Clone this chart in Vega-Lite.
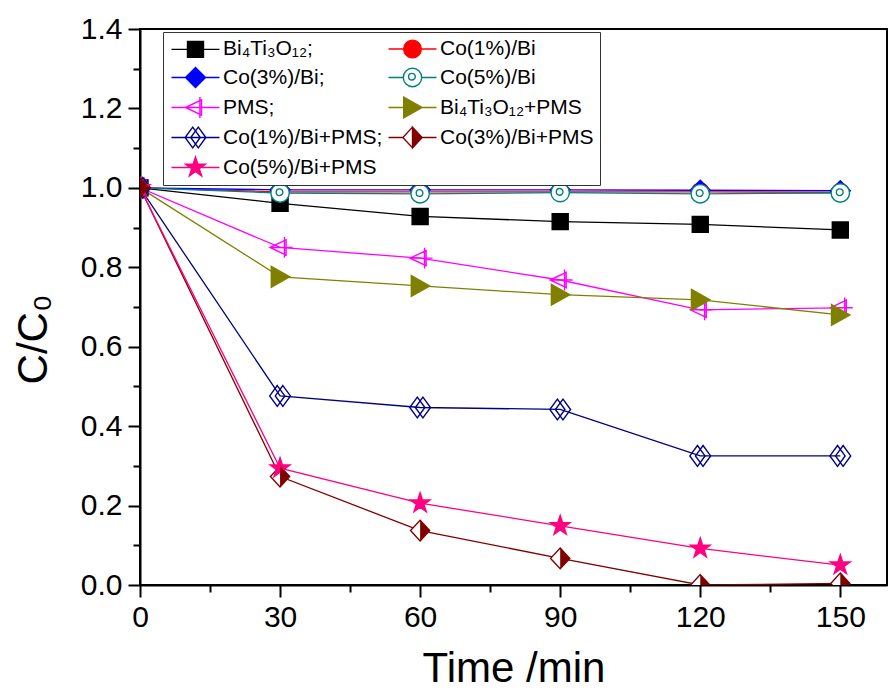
{
  "$schema": "https://vega.github.io/schema/vega-lite/v6.json",
  "width": 747,
  "height": 556,
  "autosize": "none",
  "padding": {"left": 140, "top": 29, "right": 2, "bottom": 108},
  "background": "white",
  "config": {
    "font": "Liberation Sans",
    "view": {"stroke": "black", "strokeWidth": 2}
  },
  "data": {
    "values": [
      {"series": "Bi₄Ti₃O₁₂", "t": 0, "c": 1.0},
      {"series": "Bi₄Ti₃O₁₂", "t": 30, "c": 0.961},
      {"series": "Bi₄Ti₃O₁₂", "t": 60, "c": 0.928},
      {"series": "Bi₄Ti₃O₁₂", "t": 90, "c": 0.915},
      {"series": "Bi₄Ti₃O₁₂", "t": 120, "c": 0.908},
      {"series": "Bi₄Ti₃O₁₂", "t": 150, "c": 0.894},
      {"series": "Co(1%)/Bi", "t": 0, "c": 1.0},
      {"series": "Co(1%)/Bi", "t": 30, "c": 0.990},
      {"series": "Co(1%)/Bi", "t": 60, "c": 0.990},
      {"series": "Co(1%)/Bi", "t": 90, "c": 0.990},
      {"series": "Co(1%)/Bi", "t": 120, "c": 0.990},
      {"series": "Co(1%)/Bi", "t": 150, "c": 0.989},
      {"series": "Co(3%)/Bi", "t": 0, "c": 1.0},
      {"series": "Co(3%)/Bi", "t": 30, "c": 0.995},
      {"series": "Co(3%)/Bi", "t": 60, "c": 0.995},
      {"series": "Co(3%)/Bi", "t": 90, "c": 0.995},
      {"series": "Co(3%)/Bi", "t": 120, "c": 0.994},
      {"series": "Co(3%)/Bi", "t": 150, "c": 0.993},
      {"series": "Co(5%)/Bi", "t": 0, "c": 1.0},
      {"series": "Co(5%)/Bi", "t": 30, "c": 0.987},
      {"series": "Co(5%)/Bi", "t": 60, "c": 0.985},
      {"series": "Co(5%)/Bi", "t": 90, "c": 0.988},
      {"series": "Co(5%)/Bi", "t": 120, "c": 0.985},
      {"series": "Co(5%)/Bi", "t": 150, "c": 0.987},
      {"series": "PMS", "t": 0, "c": 1.0},
      {"series": "PMS", "t": 30, "c": 0.850},
      {"series": "PMS", "t": 60, "c": 0.823},
      {"series": "PMS", "t": 90, "c": 0.768},
      {"series": "PMS", "t": 120, "c": 0.693},
      {"series": "PMS", "t": 150, "c": 0.698},
      {"series": "Bi₄Ti₃O₁₂+PMS", "t": 0, "c": 1.0},
      {"series": "Bi₄Ti₃O₁₂+PMS", "t": 30, "c": 0.776},
      {"series": "Bi₄Ti₃O₁₂+PMS", "t": 60, "c": 0.753},
      {"series": "Bi₄Ti₃O₁₂+PMS", "t": 90, "c": 0.731},
      {"series": "Bi₄Ti₃O₁₂+PMS", "t": 120, "c": 0.718},
      {"series": "Bi₄Ti₃O₁₂+PMS", "t": 150, "c": 0.680},
      {"series": "Co(1%)/Bi+PMS", "t": 0, "c": 1.0},
      {"series": "Co(1%)/Bi+PMS", "t": 30, "c": 0.476},
      {"series": "Co(1%)/Bi+PMS", "t": 60, "c": 0.447},
      {"series": "Co(1%)/Bi+PMS", "t": 90, "c": 0.442},
      {"series": "Co(1%)/Bi+PMS", "t": 120, "c": 0.325},
      {"series": "Co(1%)/Bi+PMS", "t": 150, "c": 0.325},
      {"series": "Co(3%)/Bi+PMS", "t": 0, "c": 1.0},
      {"series": "Co(3%)/Bi+PMS", "t": 30, "c": 0.273},
      {"series": "Co(3%)/Bi+PMS", "t": 60, "c": 0.137},
      {"series": "Co(3%)/Bi+PMS", "t": 90, "c": 0.067},
      {"series": "Co(3%)/Bi+PMS", "t": 120, "c": 0.0},
      {"series": "Co(3%)/Bi+PMS", "t": 150, "c": 0.004},
      {"series": "Co(5%)/Bi+PMS", "t": 0, "c": 1.0},
      {"series": "Co(5%)/Bi+PMS", "t": 30, "c": 0.294},
      {"series": "Co(5%)/Bi+PMS", "t": 60, "c": 0.206},
      {"series": "Co(5%)/Bi+PMS", "t": 90, "c": 0.149},
      {"series": "Co(5%)/Bi+PMS", "t": 120, "c": 0.092},
      {"series": "Co(5%)/Bi+PMS", "t": 150, "c": 0.050}
    ]
  },
  "encoding": {
    "x": {
      "field": "t",
      "type": "quantitative",
      "scale": {"domain": [0, 160], "nice": false, "zero": false},
      "axis": {
        "title": "Time /min",
        "titleFontSize": 42,
        "titleFontWeight": "normal",
        "titleColor": "black",
        "titlePadding": 16,
        "values": [0, 15, 30, 45, 60, 75, 90, 105, 120, 135, 150],
        "labelExpr": "datum.value % 30 === 0 ? datum.label : ''",
        "labelFontSize": 30,
        "labelColor": "black",
        "labelPadding": 5,
        "labelFlush": false,
        "grid": false,
        "domainColor": "black",
        "domainWidth": 2,
        "tickColor": "black",
        "tickWidth": 2,
        "tickSize": {"condition": {"test": "datum.value % 30 !== 0", "value": 7}, "value": 12}
      }
    },
    "y": {
      "field": "c",
      "type": "quantitative",
      "scale": {"domain": [0, 1.4], "nice": false},
      "axis": {
        "title": "C/C₀",
        "titleFontSize": 42,
        "titleFontWeight": "normal",
        "titleColor": "black",
        "titlePadding": 25,
        "titleY": 310,
        "values": [0, 0.1, 0.2, 0.3, 0.4, 0.5, 0.6, 0.7, 0.8, 0.9, 1.0, 1.1, 1.2, 1.3, 1.4],
        "labelExpr": "round(datum.value * 10) % 2 === 0 ? format(datum.value, '.1f') : ''",
        "labelFontSize": 30,
        "labelColor": "black",
        "labelPadding": 6,
        "labelFlush": false,
        "grid": false,
        "domainColor": "black",
        "domainWidth": 2,
        "tickColor": "black",
        "tickWidth": 2,
        "tickSize": {"condition": {"test": "round(datum.value * 10) % 2 !== 0", "value": 7}, "value": 12}
      }
    }
  },
  "layer": [
    {
      "mark": {"type": "line", "strokeWidth": 1.3, "clip": true},
      "encoding": {
        "stroke": {
          "field": "series",
          "type": "nominal",
          "legend": null,
          "scale": {
            "domain": ["Bi₄Ti₃O₁₂", "Co(1%)/Bi", "Co(3%)/Bi", "Co(5%)/Bi", "PMS", "Bi₄Ti₃O₁₂+PMS", "Co(1%)/Bi+PMS", "Co(3%)/Bi+PMS", "Co(5%)/Bi+PMS"],
            "range": ["#000000", "#FF0000", "#0000FF", "#008080", "#FF00FF", "#808000", "#000080", "#800000", "#FF0080"]
          }
        }
      }
    },
    {
      "mark": {"type": "point", "size": 256, "opacity": 1, "strokeWidth": 1.4, "clip": true},
      "encoding": {
        "shape": {
          "field": "series",
          "type": "nominal",
          "legend": null,
          "scale": {
            "domain": ["Bi₄Ti₃O₁₂", "Co(1%)/Bi", "Co(3%)/Bi", "Co(5%)/Bi", "PMS", "Bi₄Ti₃O₁₂+PMS", "Co(1%)/Bi+PMS", "Co(3%)/Bi+PMS", "Co(5%)/Bi+PMS"],
            "range": [
              "M-1,-1H1V1H-1Z",
              "M1.1,0A1.1,1.1 0 1,1 -1.1,0A1.1,1.1 0 1,1 1.1,0Z",
              "M0,-1.25L1.25,0L0,1.25L-1.25,0Z",
              "M1.15,0A1.15,1.15 0 1,1 -1.15,0A1.15,1.15 0 1,1 1.15,0ZM0.35,-0.1A0.42,0.42 0 1,1 -0.49,-0.1A0.42,0.42 0 1,1 0.35,-0.1Z",
              "M-1.25,0L0.75,-0.95L0.75,0.95ZM0.55,-1.3V1.3M-1.25,0H1.55",
              "M-1.1,-1.3L1.2,0L-1.1,1.3Z",
              "M-0.35,-1.3L0.6,0L-0.35,1.3L-1.3,0ZM0.35,-1.3L1.3,0L0.35,1.3L-0.6,0Z",
              "M0,-1.3L1.2,0L0,1.3L-1.2,0Z",
              "M0,-1.3L0.294,-0.405L1.236,-0.402L0.476,0.155L0.764,1.052L0,0.5L-0.764,1.052L-0.476,0.155L-1.236,-0.402L-0.294,-0.405Z"
            ]
          }
        },
        "stroke": {
          "field": "series",
          "type": "nominal",
          "legend": null,
          "scale": {
            "domain": ["Bi₄Ti₃O₁₂", "Co(1%)/Bi", "Co(3%)/Bi", "Co(5%)/Bi", "PMS", "Bi₄Ti₃O₁₂+PMS", "Co(1%)/Bi+PMS", "Co(3%)/Bi+PMS", "Co(5%)/Bi+PMS"],
            "range": ["#000000", "#FF0000", "#0000FF", "#008080", "#FF00FF", "#808000", "#000080", "#800000", "#FF0080"]
          }
        },
        "fill": {
          "field": "series",
          "type": "nominal",
          "legend": null,
          "scale": {
            "domain": ["Bi₄Ti₃O₁₂", "Co(1%)/Bi", "Co(3%)/Bi", "Co(5%)/Bi", "PMS", "Bi₄Ti₃O₁₂+PMS", "Co(1%)/Bi+PMS", "Co(3%)/Bi+PMS", "Co(5%)/Bi+PMS"],
            "range": ["#000000", "#FF0000", "#0000FF", "#FFFFFF", "transparent", "#808000", "transparent", "#FFFFFF", "#FF0080"]
          }
        }
      }
    },
    {
      "transform": [{"filter": "datum.series === 'Co(3%)/Bi+PMS'"}],
      "mark": {"type": "point", "shape": "M0,-1.3L1.2,0L0,1.3Z", "size": 256, "filled": true, "color": "#800000", "opacity": 1, "clip": true}
    },
    {
      "mark": {"type": "point", "size": 256, "opacity": 0, "strokeWidth": 1.4},
      "encoding": {
        "shape": {
          "field": "series",
          "type": "nominal",
          "scale": {
            "domain": ["Bi₄Ti₃O₁₂", "Co(1%)/Bi", "Co(3%)/Bi", "Co(5%)/Bi", "PMS", "Bi₄Ti₃O₁₂+PMS", "Co(1%)/Bi+PMS", "Co(3%)/Bi+PMS", "Co(5%)/Bi+PMS"],
            "range": [
              "M-3,0H-1M1,0H3M-1,-1H1V1H-1Z",
              "M-3,0H-1.1M1.1,0H3M1.1,0A1.1,1.1 0 1,1 -1.1,0A1.1,1.1 0 1,1 1.1,0Z",
              "M-3,0H-1.25M1.25,0H3M0,-1.25L1.25,0L0,1.25L-1.25,0Z",
              "M-3,0H-1.15M1.15,0H3M1.15,0A1.15,1.15 0 1,1 -1.15,0A1.15,1.15 0 1,1 1.15,0ZM0.35,-0.1A0.42,0.42 0 1,1 -0.49,-0.1A0.42,0.42 0 1,1 0.35,-0.1Z",
              "M-3,0H3M-1.25,0L0.75,-0.95L0.75,0.95ZM0.55,-1.3V1.3",
              "M-3,0H-1.1M1.2,0H3M-1.1,-1.3L1.2,0L-1.1,1.3Z",
              "M-3,0H3M-0.35,-1.3L0.6,0L-0.35,1.3L-1.3,0ZM0.35,-1.3L1.3,0L0.35,1.3L-0.6,0Z",
              "M-3,0H-1.2M1.2,0H3M0,-1.3L1.2,0L0,1.3ZM0,-1.3L-1.2,0M-1.2,0L0,1.3",
              "M-3,0H-0.8M0.8,0H3M0,-1.3L0.294,-0.405L1.236,-0.402L0.476,0.155L0.764,1.052L0,0.5L-0.764,1.052L-0.476,0.155L-1.236,-0.402L-0.294,-0.405Z"
            ]
          },
          "legend": {
            "title": null,
            "orient": "none",
            "legendX": 23,
            "legendY": 3,
            "direction": "horizontal",
            "columns": 2,
            "padding": 6,
            "fillColor": "white",
            "strokeColor": "#333333",
            "symbolSize": 256,
            "symbolOpacity": 1,
            "symbolStrokeWidth": 1.4,
            "symbolOffset": 16,
            "labelOffset": 17,
            "labelFontSize": 21,
            "labelColor": "black",
            "labelLimit": 0,
            "rowPadding": 3,
            "columnPadding": 2,
            "labelExpr": "indexof(['Bi₄Ti₃O₁₂', 'Co(3%)/Bi', 'PMS', 'Co(1%)/Bi+PMS'], datum.label) >= 0 ? datum.label + ';' : datum.label"
          }
        },
        "stroke": {
          "field": "series",
          "type": "nominal",
          "scale": {
            "domain": ["Bi₄Ti₃O₁₂", "Co(1%)/Bi", "Co(3%)/Bi", "Co(5%)/Bi", "PMS", "Bi₄Ti₃O₁₂+PMS", "Co(1%)/Bi+PMS", "Co(3%)/Bi+PMS", "Co(5%)/Bi+PMS"],
            "range": ["#000000", "#FF0000", "#0000FF", "#008080", "#FF00FF", "#808000", "#000080", "#800000", "#FF0080"]
          }
        },
        "fill": {
          "field": "series",
          "type": "nominal",
          "scale": {
            "domain": ["Bi₄Ti₃O₁₂", "Co(1%)/Bi", "Co(3%)/Bi", "Co(5%)/Bi", "PMS", "Bi₄Ti₃O₁₂+PMS", "Co(1%)/Bi+PMS", "Co(3%)/Bi+PMS", "Co(5%)/Bi+PMS"],
            "range": ["#000000", "#FF0000", "#0000FF", "#FFFFFF", "transparent", "#808000", "transparent", "#800000", "#FF0080"]
          }
        }
      }
    }
  ],
  "resolve": {
    "scale": {"shape": "independent", "stroke": "independent", "fill": "independent"}
  }
}
